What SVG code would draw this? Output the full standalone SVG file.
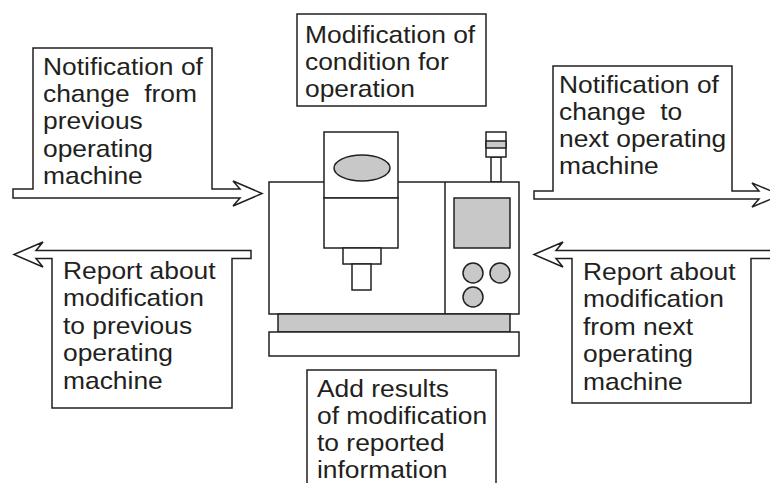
<svg xmlns="http://www.w3.org/2000/svg" width="770" height="483" viewBox="0 0 770 483">
  <style>
    .ln { fill: #ffffff; stroke: #231f20; stroke-width: 1.5; stroke-linejoin: miter; }
    .gr { fill: #c8c8c8; stroke: #231f20; stroke-width: 1.5; }
    .tx { font-family: "Liberation Sans", Arial, sans-serif; font-size: 24px; fill: #231f20; }
  </style>
  <rect width="770" height="483" fill="#ffffff"/>

  <!-- machine tool -->
  <g id="machine">
    <!-- signal tower -->
    <rect class="ln" x="491" y="157" width="10" height="25"/>
    <rect class="ln" x="486" y="132" width="20" height="25"/>
    <rect class="gr" x="486" y="141" width="20" height="7"/>
    <!-- body -->
    <rect class="ln" x="269" y="182" width="250" height="132"/>
    <line class="ln" x1="445" y1="182" x2="445" y2="314"/>
    <!-- head -->
    <rect class="ln" x="324" y="132" width="74" height="66"/>
    <ellipse class="gr" cx="362" cy="168" rx="28" ry="13"/>
    <rect class="ln" x="324" y="198" width="74" height="50"/>
    <rect class="ln" x="343" y="248" width="38" height="16"/>
    <rect class="ln" x="352" y="264" width="19" height="26"/>
    <!-- control panel -->
    <rect class="gr" x="454" y="198" width="56" height="50"/>
    <circle class="gr" cx="473" cy="273" r="10"/>
    <circle class="gr" cx="500" cy="273" r="10"/>
    <circle class="gr" cx="473" cy="297" r="10"/>
    <!-- base -->
    <rect class="gr" x="278" y="314" width="232" height="18"/>
    <rect class="ln" x="269" y="332" width="250" height="24"/>
  </g>

  <!-- labelled arrows -->
  <g id="connectors">
    <path id="notice-from-prev" class="ln" d="M13,189 H33 V48 H212 V189 H240 L233,181 L262,193.5 L233,206 L240,198 H13 Z"/>
    <path id="notice-to-next" class="ln" d="M534,191 H553 V66 H732 V191 H759 L752,183 L781,195 L752,207 L759,199 H534 Z"/>
    <path id="report-to-prev" class="ln" d="M251,250.5 V258.5 H232 V408 H52 V258.5 H36 L43,267 L14,254.5 L43,242 L36,250.5 Z"/>
    <path id="report-from-next" class="ln" d="M780,250.5 H556 L563,242 L534,254.5 L563,267 L556,258.5 H572 V403 H751 V258.5 H780"/>
  </g>

  <g id="label-notice-from-prev">
    <text class="tx" transform="translate(43,0) scale(1.1,1)" xml:space="preserve"><tspan x="0" y="75">Notification of</tspan><tspan x="0" y="102.2">change  from</tspan><tspan x="0" y="129.4">previous</tspan><tspan x="0" y="156.6">operating</tspan><tspan x="0" y="183.6">machine</tspan></text>
  </g>

  <g id="label-notice-to-next">
    <text class="tx" transform="translate(559,0) scale(1.1,1)" xml:space="preserve"><tspan x="0" y="93">Notification of</tspan><tspan x="0" y="120">change  to</tspan><tspan x="0" y="147">next operating</tspan><tspan x="0" y="174">machine</tspan></text>
  </g>

  <g id="label-report-to-prev">
    <text class="tx" transform="translate(63,0) scale(1.1,1)"><tspan x="0" y="279">Report about</tspan><tspan x="0" y="306.5">modification</tspan><tspan x="0" y="334">to previous</tspan><tspan x="0" y="361.5">operating</tspan><tspan x="0" y="389">machine</tspan></text>
  </g>

  <g id="label-report-from-next">
    <text class="tx" transform="translate(583,0) scale(1.1,1)"><tspan x="0" y="280">Report about</tspan><tspan x="0" y="307.5">modification</tspan><tspan x="0" y="335">from next</tspan><tspan x="0" y="362.5">operating</tspan><tspan x="0" y="390">machine</tspan></text>
  </g>

  <g id="modify-condition">
    <rect class="ln" x="297" y="14" width="189" height="92"/>
    <text class="tx" transform="translate(305,0) scale(1.1,1)"><tspan x="0" y="43">Modification of</tspan><tspan x="0" y="70">condition for</tspan><tspan x="0" y="97">operation</tspan></text>
  </g>

  <g id="add-results">
    <rect class="ln" x="307" y="370" width="189" height="130"/>
    <text class="tx" transform="translate(317,0) scale(1.1,1)"><tspan x="0" y="397">Add results</tspan><tspan x="0" y="424">of modification</tspan><tspan x="0" y="451">to reported</tspan><tspan x="0" y="478">information</tspan></text>
  </g>
</svg>
